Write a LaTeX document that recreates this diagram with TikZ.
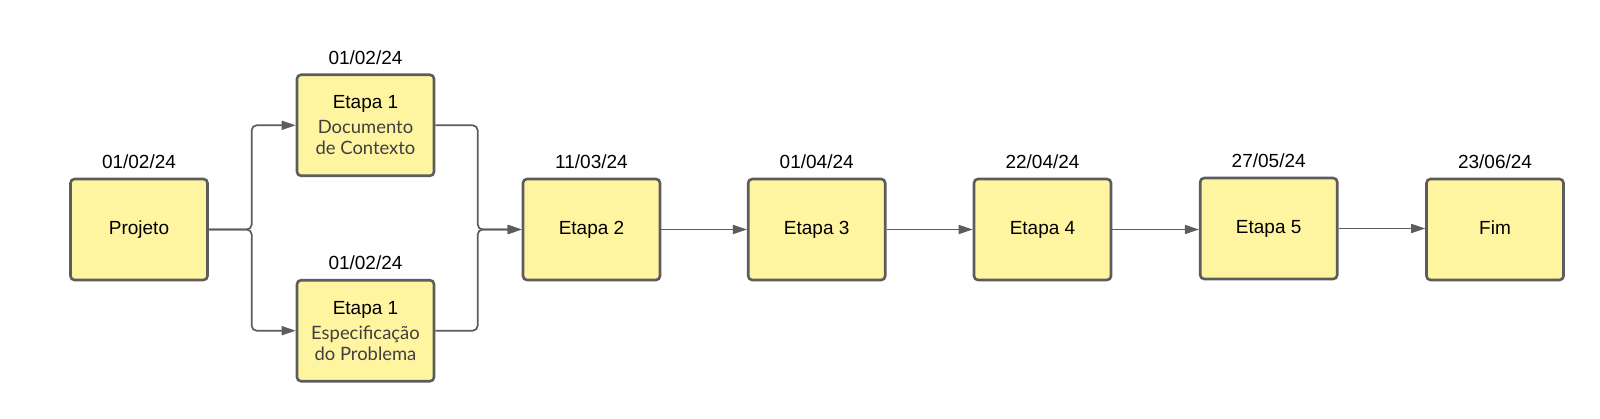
\documentclass[tikz,border=0pt]{standalone}
\usepackage{fontspec}
\setmainfont{Liberation Sans}
\newfontfamily\latofont{Lato}
\usetikzlibrary{positioning,arrows.meta}

\definecolor{amarelo}{HTML}{FFF5A1}
\definecolor{borda}{HTML}{5C5C5C}
\definecolor{subtxt}{HTML}{3F3F3F}

\newcommand{\subtexto}[1]{{\latofont\fontsize{18.4}{21.6}\selectfont\color{subtxt}#1}}

\tikzset{
  etapa/.style={draw=borda, fill=amarelo, line width=2.6pt, rounded corners=4pt,
    minimum width=137pt, minimum height=101pt, align=center, inner sep=0pt,
    font=\fontsize{19}{22}\selectfont},
  datum/.style={inner sep=0pt, font=\fontsize{19}{22}\selectfont},
  seta/.style={draw=borda, line width=1.7pt, rounded corners=5pt,
    -{Triangle[length=14pt,width=9pt]}}
}

\begin{document}
\begin{tikzpicture}[x=1pt,y=1pt]
\fill[white] (0,0) rectangle (1600,418);
\useasboundingbox (0,0) rectangle (1600,418);

% boxes
\node[etapa] (proj) at (139,188.5) {Projeto};
\node[etapa] (e1a) at (365.5,292.7) {Etapa 1\\[3pt]\subtexto{Documento}\\[-1pt]\subtexto{de Contexto}};
\node[etapa] (e1b) at (365.5,87.3) {Etapa 1\\[3pt]\subtexto{Especificação}\\[-1pt]\subtexto{do Problema}};
\node[etapa] (e2) at (591.5,188.5) {Etapa 2};
\node[etapa] (e3) at (816.7,188.5) {Etapa 3};
\node[etapa] (e4) at (1042.5,188.5) {Etapa 4};
\node[etapa] (e5) at (1268.7,189.5) {Etapa 5};
\node[etapa] (fim) at (1495,188.5) {Fim\vphantom{p}};

% dates
\node[datum, above=9pt of proj] (dproj) {01/02/24};
\node[datum, above=9pt of e1a] (de1a) {01/02/24};
\node[datum, above=9pt of e1b] (de1b) {01/02/24};
\node[datum, above=9pt of e2] (de2) {11/03/24};
\node[datum, above=9pt of e3] (de3) {01/04/24};
\node[datum, above=9pt of e4] (de4) {22/04/24};
\node[datum, above=9pt of e5] (de5) {27/05/24};
\node[datum, above=9pt of fim] (dfim) {23/06/24};

% split and merge
\coordinate (jl) at (251.7,188.5);
\coordinate (jr) at (477.7,188.5);
\draw[seta] (proj.east) -- (jl) |- (e1a.west);
\draw[seta] (proj.east) -- (jl) |- (e1b.west);
\draw[seta] (e1a.east) -| (jr) -- (e2.west);
\draw[seta] (e1b.east) -| (jr) -- (e2.west);

% chain
\foreach \a/\b in {e2/e3,e3/e4,e4/e5,e5/fim}
\draw[seta] (\a.east) -- (\a.east -| \b.west);
\end{tikzpicture}
\end{document}
